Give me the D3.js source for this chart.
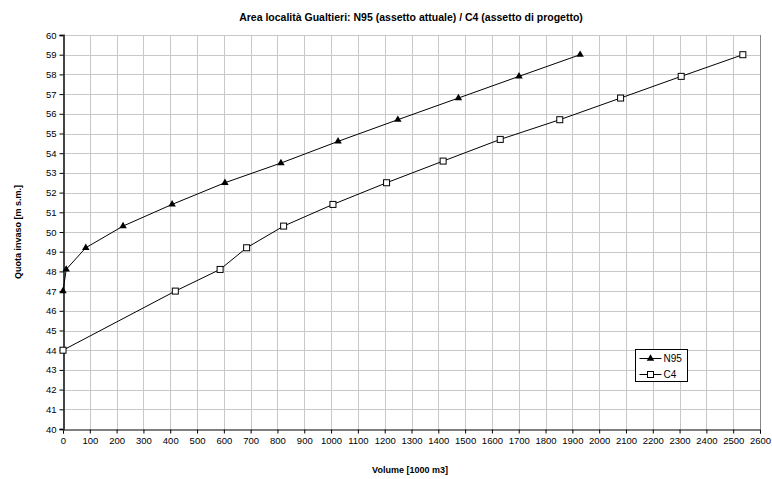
<!DOCTYPE html>
<html>
<head>
<meta charset="utf-8">
<script src="https://cdn.jsdelivr.net/npm/d3@7"></script>
<style>
  body { margin: 0; background: #fff; }
  svg { font-family: "Liberation Sans", Arial, sans-serif; }
  .grid line { stroke: #c8c8c8; stroke-width: 1; }
</style>
</head>
<body>
<svg id="chart" width="772" height="479"></svg>
<script>
// N95 (assetto attuale)
const n95Volume = [0, 12, 85, 224, 407, 604, 813, 1026, 1249, 1475, 1701, 1929];
const n95Quota  = [47, 48.1, 49.2, 50.3, 51.4, 52.5, 53.5, 54.6, 55.7, 56.8, 57.9, 59.0];

// C4 (assetto di progetto)
const c4Volume = [0, 419, 586, 685, 823, 1007, 1207, 1418, 1631, 1853, 2080, 2306, 2536];
const c4Quota  = [44, 47, 48.1, 49.2, 50.3, 51.4, 52.5, 53.6, 54.7, 55.7, 56.8, 57.9, 59.0];

const xTicks = d3.range(0, 2601, 100);
const yTicks = d3.range(40, 61, 1);

const svg = d3.select("#chart");
const margin = { left: 63, right: 12, top: 35, bottom: 50 };
const width = 772, height = 479;

const x = d3.scaleLinear().domain([0, 2600]).range([margin.left, width - margin.right]);
const y = d3.scaleLinear().domain([40, 60]).range([height - margin.bottom, margin.top]);

// grid
const grid = svg.append("g").attr("class", "grid");
grid.selectAll(".gx")
  .data(xTicks.slice(1))
  .join("line")
    .attr("x1", d => Math.round(x(d)) + 0.5)
    .attr("x2", d => Math.round(x(d)) + 0.5)
    .attr("y1", y(40))
    .attr("y2", y(60));
grid.selectAll(".gy")
  .data(yTicks.slice(1))
  .join("line")
    .attr("x1", x(0))
    .attr("x2", x(2600))
    .attr("y1", d => Math.round(y(d)) + 0.5)
    .attr("y2", d => Math.round(y(d)) + 0.5);

// right border
svg.append("line")
  .attr("x1", Math.round(x(2600)) + 0.5)
  .attr("x2", Math.round(x(2600)) + 0.5)
  .attr("y1", y(40))
  .attr("y2", y(60))
  .attr("stroke", "#888");

// axes
const xAxis = svg.append("g")
  .attr("transform", `translate(0, ${Math.round(y(40)) + 0.5})`)
  .call(d3.axisBottom(x).tickValues(xTicks).tickSize(4).tickPadding(4).tickFormat(d3.format("d")));
const yAxis = svg.append("g")
  .attr("transform", `translate(${Math.round(x(0)) + 0.5}, 0)`)
  .call(d3.axisLeft(y).tickValues(yTicks).tickSize(4).tickPadding(3).tickFormat(d3.format("d")));

[xAxis, yAxis].forEach(a => {
  a.select(".domain").attr("stroke", "#000").attr("stroke-width", 1);
  a.selectAll(".tick line").attr("stroke", "#000");
  a.selectAll(".tick text")
    .attr("font-family", "Liberation Sans, Arial, sans-serif")
    .attr("font-size", 9.5)
    .attr("fill", "#000");
});
yAxis.select(".domain").attr("stroke", "#444").attr("stroke-width", 2);

// lines
const line = d3.line().x(d => x(d[0])).y(d => y(d[1]));
const n95 = n95Volume.map((v, i) => [v, n95Quota[i]]);
const c4 = c4Volume.map((v, i) => [v, c4Quota[i]]);

svg.append("path").datum(n95)
  .attr("d", line).attr("fill", "none").attr("stroke", "#000").attr("stroke-width", 1);
svg.append("path").datum(c4)
  .attr("d", line).attr("fill", "none").attr("stroke", "#000").attr("stroke-width", 1);

const tri = d3.symbol().type(d3.symbolTriangle).size(24);
svg.append("g").selectAll("path")
  .data(n95)
  .join("path")
    .attr("transform", d => `translate(${x(d[0])}, ${y(d[1])})`)
    .attr("d", tri)
    .attr("fill", "#000");

svg.append("g").selectAll("rect")
  .data(c4)
  .join("rect")
    .attr("x", d => x(d[0]) - 3)
    .attr("y", d => y(d[1]) - 3)
    .attr("width", 6)
    .attr("height", 6)
    .attr("fill", "#fff")
    .attr("stroke", "#000")
    .attr("stroke-width", 1);

// title and axis labels
svg.append("text")
  .attr("x", 411).attr("y", 21)
  .attr("text-anchor", "middle")
  .attr("font-size", 10.5).attr("font-weight", "bold")
  .text("Area località Gualtieri: N95 (assetto attuale) / C4 (assetto di progetto)");

svg.append("text")
  .attr("x", 410).attr("y", 473)
  .attr("text-anchor", "middle")
  .attr("font-size", 9).attr("font-weight", "bold")
  .text("Volume [1000 m3]");

svg.append("text")
  .attr("transform", "translate(21, 232) rotate(-90)")
  .attr("text-anchor", "middle")
  .attr("font-size", 9).attr("font-weight", "bold")
  .text("Quota invaso [m s.m.]");

// legend
const legend = svg.append("g").attr("transform", "translate(635.5, 349.5)");
legend.append("rect")
  .attr("width", 52).attr("height", 32)
  .attr("fill", "#fff").attr("stroke", "#000");
const legendItems = [
  { label: "N95", marker: "tri" },
  { label: "C4", marker: "sq" }
];
const li = legend.selectAll(".li")
  .data(legendItems)
  .join("g")
    .attr("transform", (d, i) => `translate(0, ${9 + i * 16})`);
li.append("line")
  .attr("x1", 4).attr("x2", 26).attr("y1", 0).attr("y2", 0)
  .attr("stroke", "#000");
li.filter(d => d.marker === "tri").append("path")
  .attr("transform", "translate(15, 0)")
  .attr("d", tri).attr("fill", "#000");
li.filter(d => d.marker === "sq").append("rect")
  .attr("x", 12).attr("y", -3).attr("width", 6).attr("height", 6)
  .attr("fill", "#fff").attr("stroke", "#000");
li.append("text")
  .attr("x", 28).attr("y", 3.5)
  .attr("font-size", 10)
  .text(d => d.label);
</script>
</body>
</html>
